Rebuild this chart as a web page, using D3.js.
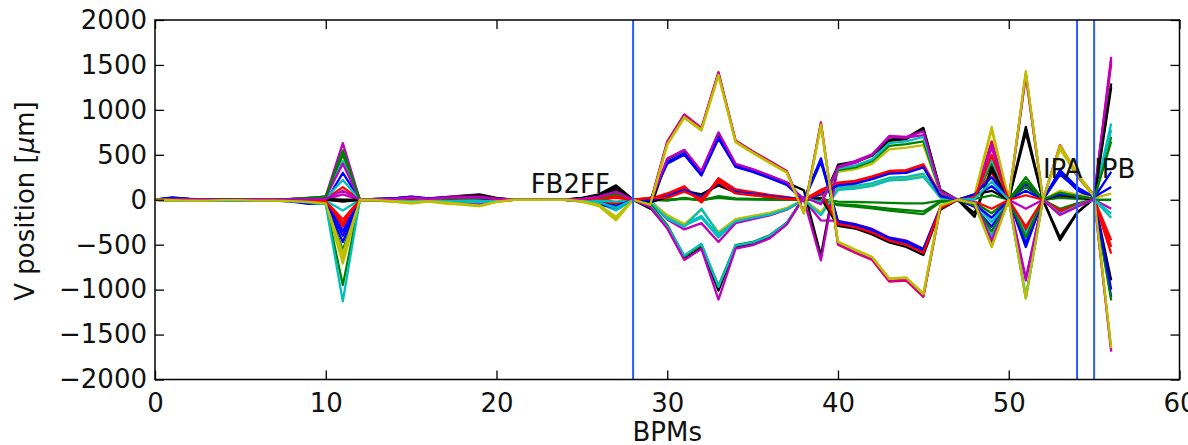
<!DOCTYPE html>
<html><head><meta charset="utf-8">
<script src="https://cdn.jsdelivr.net/npm/d3@7"></script>
<style>
body{margin:0;background:#fff}
text{font-family:"DejaVu Sans",sans-serif}
</style>
</head><body>
<svg id="c" width="1188" height="445"></svg>
<script>
// ---- data ----
const bpms = d3.range(0, 57);
const xTicks = [0, 10, 20, 30, 40, 50, 60];
const yTicks = [-2000, -1500, -1000, -500, 0, 500, 1000, 1500, 2000];
const markerBpms = [28, 54, 55];
const labelTexts = ["FB2FF", "IPA", "IPB"];
const labelX = [22, 52, 55];
const labelY = [70, 240, 240];

const s00 = [0,25,10,5,0,-5,0,5,-10,-30, -20,300,0,5,15,30,10,20,30,20,10, 0,0,0,0,-10,-40,-80,0, -20,420,520,290,700,380,320,250,175,0,460,-250,-285,-340,-435,-470,-565,-90,0, -80,-300,0,-526,0,310,106,10,-1083];
const s01 = [0,5,0,-5,-5,0,5,0,10,20, 30,500,0,-5,-10,-20,-5,15,20,30,10, 0,0,0,0,5,30,60,0, 0,-10,20,-10,40,15,10,5,0,0,10,-20,-25,-30,-35,-40,-40,-10,0, 20,400,0,250,0,30,20,0,700];
const s02 = [0,-5,-5,0,5,5,0,-5,-10,-20, 10,140,0,10,10,-20,-10,-30,-40,-30,-10, 0,0,0,0,10,20,40,0, -40,650,950,800,1420,660,540,430,320,-140,860,-500,-590,-670,-910,-900,-1080,-80,0, 30,650,0,1380,0,607,290,50,1516];
const s03 = [0,10,0,5,0,-5,-5,0,5,10, 25,430,0,-10,-15,-30,-10,-20,-30,-40,-15, 0,0,0,0,-5,-30,-60,0, -20,-200,-290,-200,-420,-235,-195,-160,-100,0,-160,125,140,170,230,240,275,30,0, -40,-250,0,-414,0,-154,-70,10,848];
const s04 = [0,-10,-5,0,5,0,0,5,0,10, 40,630,0,5,5,10,5,-10,-20,-10,0, 0,0,0,0,15,50,100,0, -30,-220,-330,-260,-470,-260,-215,-175,-110,0,-230,-235,-270,-325,-420,-455,-545,-80,0, -40,-480,0,-898,0,-150,-70,0,-100];
const s05 = [0,-10,-10,-5,0,-5,-5,0,-5,-15, -30,-650,0,-10,-20,-40,-15,-40,-50,-70,-20, 0,0,0,0,-20,-60,-210,0, -60,-290,-640,-510,-980,-515,-480,-405,-260,20,-20,310,340,400,560,580,607,80,0, 50,780,0,1410,0,580,260,30,-1660];
const s06 = [0,0,5,0,-5,0,5,0,0,-5, -5,-10,0,5,10,20,10,30,45,60,20, 0,0,0,0,20,60,160,0, -100,450,550,310,740,395,335,265,190,106,-620,390,425,500,670,690,800,110,0, -190,365,0,810,0,-451,-150,20,1293];
const s07 = [0,20,5,0,-5,-10,-5,0,-15,-40, -30,-400,0,-5,-10,-25,-10,-20,-25,-20,-5, 0,0,0,0,-10,-30,-100,0, -10,410,510,280,690,370,315,245,170,10,440,-260,-295,-350,-445,-485,-580,-100,0, 40,150,0,-480,0,280,120,20,310];
const s08 = [0,-5,-5,-10,-5,0,0,-5,-10,-25, -35,-560,0,5,0,-10,0,10,15,10,5, 0,0,0,0,-5,-20,-50,0, 10,-5,15,-5,30,10,5,5,0,0,5,-50,-60,-80,-100,-115,-130,-20,0, -30,-150,0,143,0,20,10,0,-1120];
const s09 = [0,5,5,0,0,5,5,0,-5,-15, -15,-220,0,-5,-10,-15,-5,25,35,40,10, 0,0,0,0,10,-10,30,0, 10,70,150,-20,240,115,85,55,30,0,110,190,210,260,320,330,395,55,0, 40,300,0,-340,0,69,40,0,-525];
const s10 = [0,-5,0,5,5,0,-5,-5,0,5, 15,220,0,0,5,15,5,-15,-20,-25,-10, 0,0,0,0,-10,-40,-120,0, -10,-180,-275,-180,-400,-220,-185,-150,-95,0,-150,140,155,185,245,255,290,35,0, 30,450,0,-380,0,-130,-60,0,-154];
const s11 = [0,-5,-5,-5,0,0,5,5,5,0, 5,60,0,5,15,35,15,30,40,50,15, 0,0,0,0,5,40,120,0, -45,640,940,790,1410,655,535,425,315,-145,850,-490,-580,-660,-900,-890,-1070,-75,0, 20,580,0,1400,0,590,270,40,1590];
const s12 = [0,-10,-10,-10,-5,-5,-5,-5,-10,-20, -40,-710,0,-10,-20,-35,-15,-35,-45,-60,-20, 0,0,0,0,-20,-60,-200,0, -20,-170,-270,-110,-360,-215,-180,-145,-90,0,-140,115,130,160,220,230,265,25,0, -50,-520,0,-1090,0,100,60,20,69];
const s13 = [0,5,0,-5,0,5,0,-5,0,5, 10,0,0,0,5,10,5,20,35,50,15, 0,0,0,0,15,50,140,0, -90,-310,-660,-530,-1010,-530,-495,-420,-270,30,-40,380,415,490,655,675,785,100,0, -150,330,0,750,0,-420,-140,10,-897];
const s14 = [0,15,10,5,0,-5,-10,-10,-20,-45, -40,-470,0,10,15,35,15,25,30,25,10, 0,0,0,0,-15,-50,-90,0, 0,400,500,270,680,365,310,240,165,-10,420,-240,-275,-330,-425,-460,-550,-85,0, -50,-200,0,180,0,330,140,30,143];
const s15 = [0,-5,-10,-10,-10,-5,-5,-10,-15,-30, -45,-950,0,5,5,0,0,5,10,5,0, 0,0,0,0,5,10,-30,0, 20,0,10,0,20,5,5,0,0,0,0,-60,-75,-95,-120,-140,-160,-25,0, 10,50,0,-420,0,-100,-40,0,0];
const s16 = [0,0,5,5,0,0,0,0,-5,-10, -20,-300,0,-5,-5,-10,-5,-25,-35,-40,-15, 0,0,0,0,-5,-20,-40,0, 0,50,130,-30,220,105,75,45,25,-5,90,175,195,245,300,310,375,45,0, -20,-100,0,-300,0,50,30,10,-450];
const s17 = [0,-5,-5,0,0,-5,-5,-5,-10,-20, -10,-120,0,0,-5,-5,0,5,0,-5,0, 0,0,0,0,0,-10,-20,0, -30,-210,-300,-100,-380,-240,-200,-165,-105,0,-170,110,125,155,215,225,255,25,0, -20,-400,0,-1096,0,-154,-60,10,780];
const s18 = [0,5,5,5,0,0,5,5,10,20, 30,400,0,-5,-10,-20,-10,-30,-40,-50,-15, 0,0,0,0,10,30,80,0, -40,460,555,320,750,400,340,270,195,0,-675,365,430,505,700,690,720,90,0, 30,620,0,-100,0,-140,-60,0,1560];
const s19 = [0,-10,-5,-5,-5,-5,-5,-10,-10,-20, -35,-600,0,-10,-20,-40,-20,-40,-55,-70,-25, 0,0,0,0,-20,-70,-228,0, -60,620,920,780,1390,645,525,415,305,-150,835,-470,-560,-640,-880,-870,-1050,-70,0, 50,810,0,1430,0,600,300,40,-1680];
const s20 = [0,0,0,5,5,0,0,5,5,0, 5,-20,0,0,5,10,0,10,25,40,10, 0,0,0,0,15,40,110,0, -30,30,100,60,160,80,55,30,15,0,20,-290,-320,-385,-475,-525,-615,-110,0, 60,100,0,200,0,50,30,0,1250];
const s21 = [0,20,10,5,0,-5,-5,-5,-15,-35, -30,-350,0,10,15,30,10,15,20,15,5, 0,0,0,0,-10,-35,-70,0, -10,40,110,30,190,90,65,40,20,0,60,160,180,230,290,300,360,40,0, 60,250,0,100,0,60,40,10,-1000];
const s22 = [0,5,5,0,0,5,5,5,10,20, 35,550,0,-5,-10,-15,-5,10,15,25,10, 0,0,0,0,5,25,70,0, -50,-280,-630,-500,-960,-505,-470,-395,-255,20,-30,330,360,430,600,620,650,85,0, -60,-350,0,200,0,80,40,10,650];
const s23 = [0,5,0,0,-5,-5,0,0,-5,-10, -15,-260,0,5,5,15,5,20,25,30,10, 0,0,0,0,5,15,20,0, 20,20,90,10,200,70,50,30,10,0,80,-270,-305,-365,-455,-500,-590,-95,0, 20,500,0,50,0,-120,-60,0,-600];
const s24 = [0,-5,-10,-10,-10,-10,-5,-10,-15,-30, -50,-1130,0,0,-5,-15,-5,-15,-20,-30,-10, 0,0,0,0,-10,-30,-90,0, -70,-300,-620,-490,-970,-510,-475,-400,-258,25,-30,345,380,450,630,650,700,90,0, 10,200,0,-1080,0,-160,-70,0,-200];
const s25 = [0,0,5,0,0,5,5,0,5,5, 10,100,0,0,10,25,10,20,30,35,10, 0,0,0,0,10,35,90,0, -80,-320,-670,-545,-1110,-545,-505,-430,-275,30,-50,360,410,500,710,700,760,95,0, -30,-450,0,-870,0,-170,-80,10,-1690];
const s26 = [0,-5,-10,-10,-5,-5,-10,-10,-15,-25, -40,-680,0,-5,-15,-30,-15,-30,-45,-65,-20, 0,0,0,0,-15,-55,-190,0, -55,610,910,770,1380,640,520,410,300,-155,830,-465,-555,-635,-875,-865,-1045,-65,0, -40,-526,0,-1096,0,560,280,30,-1650];

const allSeries = [s00,s01,s02,s03,s04,s05,s06,s07,s08,s09,s10,s11,s12,s13,s14,s15,s16,s17,s18,s19,s20,s21,s22,s23,s24,s25,s26];

// ---- style ----
const colorCycle = ['#0000ff','#008000','#ff0000','#00bfbf','#bf00bf','#bfbf00','#000000'];
const W = 1188, H = 445;
const m = {left:155, right:W-1179.5, top:20, bottom:H-379.5};
const FS = 26;

const svg = d3.select('#c');
const x = d3.scaleLinear().domain([0,60]).range([m.left, W-m.right]);
const y = d3.scaleLinear().domain([-2000,2000]).range([H-m.bottom, m.top]);

svg.append('defs').append('clipPath').attr('id','clip')
  .append('rect').attr('x',x(0)).attr('y',y(2000)).attr('width',x(60)-x(0)).attr('height',y(-2000)-y(2000));

const g = svg.append('g').attr('clip-path','url(#clip)');
const line = d3.line().x((d,i)=>x(bpms[i])).y(d=>y(d));
g.selectAll('path.s').data(allSeries).enter().append('path')
  .attr('class','s')
  .attr('d', line)
  .attr('fill','none')
  .attr('stroke',(d,i)=>colorCycle[i%colorCycle.length])
  .attr('stroke-width',2.3)
  .attr('stroke-linejoin','round');

// vertical marker lines
g.selectAll('line.v').data(markerBpms).enter().append('line')
  .attr('x1',d=>x(d)).attr('x2',d=>x(d))
  .attr('y1',y(2000)).attr('y2',y(-2000))
  .attr('stroke','#2a5cff').attr('stroke-width',2);

// annotations
svg.selectAll('text.lab').data(labelTexts).enter().append('text')
  .attr('x',(d,i)=>x(labelX[i])).attr('y',(d,i)=>y(labelY[i]))
  .attr('font-size',FS).attr('fill','#111').text(d=>d);

// axes
function styleAxis(sel){
  sel.select('.domain').remove();
  sel.selectAll('.tick line').attr('stroke','#000').attr('stroke-width',1.3);
  sel.selectAll('.tick text').attr('font-size',FS).attr('fill','#111').attr('font-family','DejaVu Sans');
}
const fmt = d => d < 0 ? '\u2212' + Math.abs(d) : String(d);
svg.append('g').attr('transform',`translate(0,${y(-2000)})`)
  .call(d3.axisBottom(x).tickValues(xTicks).tickSizeInner(-9).tickSizeOuter(0).tickPadding(14).tickFormat(fmt))
  .call(styleAxis);
svg.append('g').attr('transform',`translate(0,${y(2000)})`)
  .call(d3.axisTop(x).tickValues(xTicks).tickSizeInner(-9).tickSizeOuter(0).tickFormat(''))
  .call(styleAxis);
svg.append('g').attr('transform',`translate(${x(0)},0)`)
  .call(d3.axisLeft(y).tickValues(yTicks).tickSizeInner(-9).tickSizeOuter(0).tickPadding(8).tickFormat(fmt))
  .call(styleAxis);
svg.append('g').attr('transform',`translate(${x(60)},0)`)
  .call(d3.axisRight(y).tickValues(yTicks).tickSizeInner(-9).tickSizeOuter(0).tickFormat(''))
  .call(styleAxis);

// frame
svg.append('rect').attr('x',x(0)).attr('y',y(2000))
  .attr('width',x(60)-x(0)).attr('height',y(-2000)-y(2000))
  .attr('fill','none').attr('stroke','#000').attr('stroke-width',1.5);

// axis labels
svg.append('text').attr('x',(x(0)+x(60))/2).attr('y',441)
  .attr('text-anchor','middle').attr('font-size',FS).attr('fill','#111').text('BPMs');
const yl = svg.append('text').attr('transform','translate(34,201) rotate(-90)')
  .attr('text-anchor','middle').attr('font-size',FS).attr('fill','#111');
yl.append('tspan').text('V position [');
yl.append('tspan').attr('font-style','italic').text('\u03bc');
yl.append('tspan').text('m]');
</script>
</body></html>
